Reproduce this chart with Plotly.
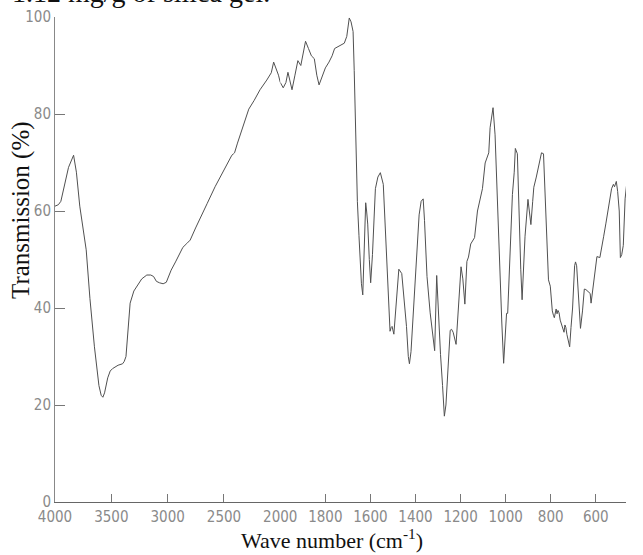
import plotly.graph_objects as go

# ---- data ----
wavenumber = [
    4000, 3970, 3948, 3920, 3880, 3835, 3810, 3780, 3740, 3723, 3690, 3650, 3610, 3590, 3575,
    3560, 3532, 3510, 3489, 3440, 3400, 3385, 3370, 3359, 3345, 3333, 3300, 3272, 3230, 3185,
    3150, 3125, 3100, 3073, 3040, 3012, 2990, 2969, 2930, 2900, 2865, 2830, 2800, 2752, 2709,
    2650, 2579, 2520, 2466, 2430, 2415, 2406, 2380, 2350, 2319, 2280, 2232, 2180, 2120, 2080,
    2059, 2040, 2016, 2000, 1987, 1975, 1966, 1958, 1948, 1935, 1922, 1909, 1900, 1888, 1875,
    1862, 1849, 1838, 1828, 1815, 1800, 1784, 1770, 1759, 1740, 1728, 1716, 1705, 1694, 1686,
    1677, 1672, 1665, 1658, 1651, 1640, 1634, 1628, 1621, 1617, 1612, 1605, 1599, 1591, 1585,
    1578, 1567, 1556, 1543, 1535, 1526, 1518, 1513, 1508, 1504, 1496, 1490, 1483, 1474, 1461,
    1450, 1440, 1432, 1427, 1420, 1405, 1395, 1384, 1375, 1366, 1360, 1349, 1335, 1320, 1315,
    1306, 1298, 1289, 1280, 1272, 1265, 1259, 1246, 1240, 1233, 1220, 1210, 1198, 1190, 1181,
    1172, 1165, 1155, 1138, 1125, 1103, 1091, 1082, 1075, 1069, 1056, 1047, 1040, 1034, 1025,
    1017, 1009, 1003, 996, 991, 985, 978, 970, 962, 957, 948, 940, 933, 927, 920,
    914, 901, 895, 888, 880, 875, 864, 853, 841, 832, 825, 819, 810, 802, 797,
    793, 788, 784, 776, 772, 768, 763, 758, 754, 747, 741, 737, 733, 728, 724,
    716, 710, 703, 694, 690, 685, 677, 668, 659, 651, 644, 638, 625, 621, 615,
    608, 600, 595, 582, 575, 565, 555, 543, 530, 522, 517, 509, 503, 496, 491,
    485, 478, 470, 462,
]
transmission = [
    61, 61.3, 62, 65, 69, 71.5, 68, 61, 54, 52, 42, 32, 24, 22, 21.6,
    22.5, 25.6, 27, 27.5, 28.2, 28.5, 29, 30, 33, 38, 41, 43.5, 44.5, 46, 46.8,
    46.8, 46.5, 45.5, 45.2, 45, 45.3, 46.5, 47.8, 49.5, 51, 52.5, 53.3, 54, 56.5, 58.5,
    61.5, 65, 67.5, 70, 71.5, 71.8, 72, 74, 76, 78.5, 81, 82.8, 85, 87, 88.5,
    90.7, 89.5, 88, 86.5, 85.4, 86.5, 88.6, 87, 85, 88, 91, 90, 92, 95, 93.5,
    92, 91.4, 88, 86, 87.5, 89.5, 90.7, 92, 93.5, 94, 94.4, 94.6, 96, 99.8, 99,
    97, 89, 75, 62, 55, 45, 42.7, 50, 61.7, 60, 57.3, 50, 45.2, 51, 58,
    64.6, 67, 67.9, 65.5, 57, 46.5, 38, 35.2, 36, 36.2, 34.6, 38, 41.9, 48, 47.1,
    42, 36.2, 30, 28.5, 31, 41.9, 50, 59.2, 62, 62.5, 58, 46.5, 39, 32, 31.2,
    46.7, 38, 30.4, 24, 17.7, 20, 25, 35.4, 35.6, 35, 32.5, 40, 48.5, 46, 40.8,
    49.6, 50.5, 53.2, 54.5, 60, 64.6, 69.9, 71, 72, 77.2, 81.3, 75.7, 66, 56, 46,
    36.9, 28.6, 33, 38.9, 38.9, 45, 54.3, 63.4, 68, 72.9, 71.8, 56, 48, 41.7, 48,
    54.8, 62.4, 60, 57.2, 62, 64.9, 67, 69.2, 72, 71.8, 64, 56, 45.8, 44.5, 41,
    39.4, 38.5, 38, 39.8, 38.8, 39.5, 39, 37.5, 36.9, 36, 35, 36.5, 36, 34.5, 33.6,
    32, 36, 40, 48.7, 49.5, 48.7, 41.9, 35.8, 39.4, 43.9, 43.8, 43.5, 43, 41, 43.5,
    45.8, 49, 50.6, 50.4, 52, 54.8, 57.5, 60.6, 64.6, 65.5, 65, 66.1, 64, 60, 50.4,
    51, 52.9, 62.5, 66,
]
ticks_high = [4000, 3500, 3000, 2500, 2000]
ticks_low = [1800, 1600, 1400, 1200, 1000, 800, 600]
y_ticks = [0, 20, 40, 60, 80, 100]

# split into the two linear scale regions of the chart paper
hi_w = [w for w in wavenumber if w >= 2000]
hi_t = [t for w, t in zip(wavenumber, transmission) if w >= 2000]
lo_w = [w for w in wavenumber if w <= 2000]
lo_t = [t for w, t in zip(wavenumber, transmission) if w <= 2000]

W, H = 643, 555
L, R, T, B = 55, 0, 17, 53
plot_w = W - L - R
plot_h = H - T - B
x_split = 287  # pixel position of 2000 cm-1
dom_split = (x_split - L) / plot_w


def px_x(px):
    return (px - L) / plot_w


def px_y(py):
    return (H - B - py) / plot_h


line_col = "#505050"
tick_font = dict(family="DejaVu Sans Condensed, Liberation Sans Narrow, DejaVu Sans, sans-serif",
                 size=15, color="#8a8a8a")

fig = go.Figure()
fig.add_trace(go.Scatter(x=hi_w, y=hi_t, mode="lines", xaxis="x", yaxis="y",
                         line=dict(color=line_col, width=1), showlegend=False,
                         hoverinfo="skip"))
fig.add_trace(go.Scatter(x=lo_w, y=lo_t, mode="lines", xaxis="x2", yaxis="y",
                         line=dict(color=line_col, width=1), showlegend=False,
                         hoverinfo="skip"))

axis_common = dict(showgrid=False, zeroline=False, showline=True, linecolor="#666666",
                   linewidth=1.3, ticks="inside", ticklen=8, tickcolor="#777777",
                   tickfont=tick_font, tickmode="array", ticklabelstandoff=1)

fig.update_layout(
    width=W, height=H,
    margin=dict(l=L, r=R, t=T, b=B, pad=0),
    paper_bgcolor="white", plot_bgcolor="white",
    xaxis=dict(domain=[0, dom_split], range=[4000, 2000], anchor="y",
               tickvals=ticks_high, ticktext=[str(v) for v in ticks_high], **axis_common),
    xaxis2=dict(domain=[dom_split, 1], range=[2000, 466], anchor="y",
                tickvals=ticks_low, ticktext=[str(v) for v in ticks_low], **axis_common),
    yaxis=dict(range=[0, 100], showgrid=False, zeroline=False, showline=True,
               linecolor="#888888", linewidth=1, ticks="inside", ticklen=10,
               tickcolor="#777777", tickfont=tick_font, tickmode="array",
               tickvals=y_ticks, ticktext=[str(v) for v in y_ticks]),
)

# axis titles
fig.add_annotation(text="Transmission (%)", textangle=-90, xref="paper", yref="paper",
                   x=px_x(20), y=px_y(210), xanchor="center", yanchor="middle",
                   showarrow=False,
                   font=dict(family="Liberation Serif, Times New Roman, serif", size=25,
                             color="#111111"))
fig.add_annotation(text="Wave number (cm<sup>-1</sup>)", xref="paper", yref="paper",
                   x=px_x(340), y=px_y(539), xanchor="center", yanchor="middle",
                   showarrow=False,
                   font=dict(family="Liberation Serif, Times New Roman, serif", size=22,
                             color="#111111"))
# cropped caption at top edge
fig.add_annotation(text="1.12 mg/g of silica gel.", xref="paper", yref="paper",
                   x=px_x(9), xanchor="left",
                   y=px_y(10), yanchor="bottom", showarrow=False,
                   font=dict(family="Liberation Serif, Times New Roman, serif", size=28,
                             color="#111111"))

fig.write_html("out.html")
